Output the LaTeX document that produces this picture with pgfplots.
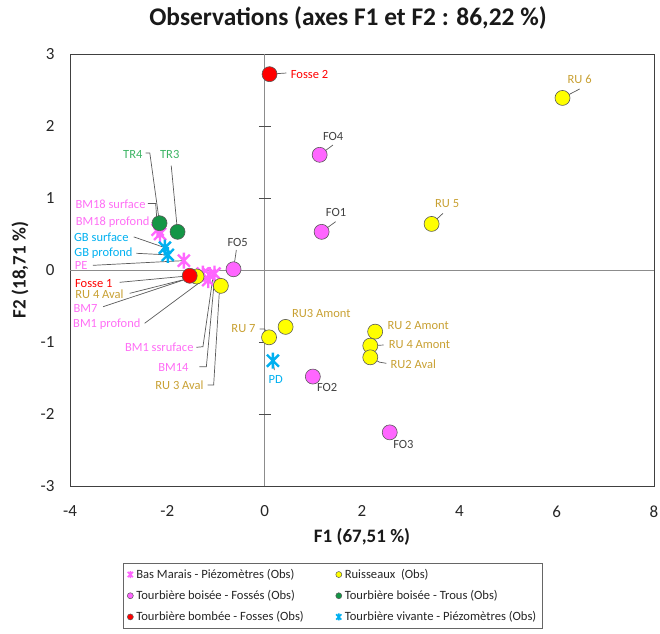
\documentclass[border=0pt]{standalone}
\usepackage{pgfplots}
\pgfplotsset{compat=1.18}
\usepackage{fontspec}
\setmainfont{Carlito}

\definecolor{pinkM}{RGB}{255,102,255}
\definecolor{pinkL}{RGB}{255,110,245}
\definecolor{cyanM}{RGB}{0,176,240}
\definecolor{greenM}{RGB}{20,150,70}
\definecolor{greenL}{RGB}{60,180,100}
\definecolor{redM}{RGB}{255,0,0}
\definecolor{yellowM}{RGB}{255,255,0}
\definecolor{goldL}{RGB}{200,160,50}
\definecolor{foL}{RGB}{64,64,64}
\definecolor{leader}{RGB}{90,90,90}

\pgfdeclareplotmark{xstar}{%
  \pgfpathmoveto{\pgfqpoint{-.75\pgfplotmarksize}{-.75\pgfplotmarksize}}%
  \pgfpathlineto{\pgfqpoint{.75\pgfplotmarksize}{.75\pgfplotmarksize}}%
  \pgfpathmoveto{\pgfqpoint{-.75\pgfplotmarksize}{.75\pgfplotmarksize}}%
  \pgfpathlineto{\pgfqpoint{.75\pgfplotmarksize}{-.75\pgfplotmarksize}}%
  \pgfpathmoveto{\pgfqpoint{0pt}{-\pgfplotmarksize}}%
  \pgfpathlineto{\pgfqpoint{0pt}{\pgfplotmarksize}}%
  \pgfusepathqstroke
}

\pgfplotstableread{
x y
-2.20 0.56
-2.15 0.50
-1.66 0.13
-1.27 -0.05
-1.13 -0.07
-1.03 -0.05
-1.16 -0.14
}\bmdata
\pgfplotstableread{
x y
6.12 2.39
3.43 0.64
0.43 -0.79
0.09 -0.935
2.27 -0.856
2.17 -1.051
2.17 -1.213
-1.40 -0.09
-0.90 -0.22
}\rudata
\pgfplotstableread{
x y
1.13 1.60
1.17 0.53
-0.64 0.01
0.99 -1.48
2.57 -2.255
}\fodata
\pgfplotstableread{
x y
-2.16 0.65
-1.79 0.53
}\trdata
\pgfplotstableread{
x y
0.10 2.72
-1.54 -0.08
}\fsdata
\pgfplotstableread{
x y
-2.05 0.31
-1.99 0.21
0.17 -1.26
}\tvdata

\begin{document}
\begin{tikzpicture}
\useasboundingbox (0,0) rectangle (660bp,634bp);
\begin{axis}[
  at={(70bp,148bp)}, anchor=south west,
  scale only axis, width=584bp, height=432bp,
  xmin=-4, xmax=8, ymin=-3, ymax=3,
  xtick={-4,-2,...,8}, ytick={-3,-2,...,3},
  major tick length=0pt,
  axis line style={draw=black!75, line width=0.9bp},
  tick label style={font=\fontsize{17bp}{20bp}\selectfont, text=black!85},
  xticklabel style={yshift=-16bp},
  yticklabel style={xshift=-12bp},
  /pgf/number format/assume math mode=true,
  clip=false,
  legend columns=2,
  legend cell align=left,
  legend image code/.code={\draw[#1] plot coordinates {(0bp,0bp)};},
  legend style={at={(0.0908,-0.178)}, anchor=north west, draw=black!60, line width=0.6bp,
    font=\fontsize{12.6bp}{15bp}\selectfont, text=black!85,
    inner xsep=4bp, inner ysep=4bp, row sep=6.5bp,
    /tikz/every odd column/.append style={column sep=1bp},
    /tikz/every even column/.append style={column sep=30bp}},
]
% central axes
\draw[black!45, line width=0.9bp] (axis cs:0,-3) -- (axis cs:0,3);
\draw[black!45, line width=0.9bp] (axis cs:-4,0) -- (axis cs:8,0);
\pgfplotsinvokeforeach{-2,-1,1,2}{\draw[black!70, line width=0.8bp] (axis cs:-0.12,#1) -- (axis cs:0.12,#1);}

% leader lines
\begin{scope}[leader, line width=0.7bp]
\draw (axis cs:-2.445,1.625) -- (axis cs:-2.36,1.625) -- (axis cs:-2.16,0.65);
\draw (axis cs:-1.92,1.45) -- (axis cs:-1.79,0.53);
\draw (axis cs:-2.40,0.925) -- (axis cs:-2.24,0.925) -- (axis cs:-2.20,0.56);
\draw (axis cs:-2.32,0.667) -- (axis cs:-2.15,0.50);
\draw (axis cs:-2.69,0.46) -- (axis cs:-2.05,0.31);
\draw (axis cs:-2.636,0.232) -- (axis cs:-1.99,0.21);
\draw (axis cs:-3.528,0.065) -- (axis cs:-1.66,0.13);
\draw (axis cs:-2.979,-0.171) -- (axis cs:-1.54,-0.08);
\draw (axis cs:-2.774,-0.324) -- (axis cs:-1.40,-0.09);
\draw (axis cs:-3.32,-0.51) -- (axis cs:-1.27,-0.05);
\draw (axis cs:-2.466,-0.74) -- (axis cs:-1.13,-0.07);
\draw (axis cs:-1.403,-1.074) -- (axis cs:-1.268,-1.065) -- (axis cs:-1.06,-0.09);
\draw (axis cs:-1.34,-1.343) -- (axis cs:-1.198,-1.343) -- (axis cs:-1.03,-0.12);
\draw (axis cs:-1.171,-1.597) -- (axis cs:-1.048,-1.597) -- (axis cs:-0.925,-0.23);
\draw (axis cs:-0.582,0.278) -- (axis cs:-0.64,0.01);
\draw (axis cs:0.10,2.72) -- (axis cs:0.445,2.736);
\draw (axis cs:1.404,1.736) -- (axis cs:1.13,1.60);
\draw (axis cs:1.459,0.671) -- (axis cs:1.17,0.53);
\draw (axis cs:3.664,0.787) -- (axis cs:3.43,0.64);
\draw (axis cs:6.472,2.514) -- (axis cs:6.12,2.39);
\draw (axis cs:-0.103,-0.819) -- (axis cs:0.0,-0.819) -- (axis cs:0.09,-0.935);
\draw (axis cs:0.20,-1.39) -- (axis cs:0.17,-1.26);
\draw (axis cs:2.445,-1.042) -- (axis cs:2.17,-1.051);
\draw (axis cs:2.50,-1.296) -- (axis cs:2.36,-1.28) -- (axis cs:2.17,-1.213);
\end{scope}

% series
\addplot[only marks, mark=xstar, mark size=8bp, draw=pinkM, line width=2.4bp, forget plot] table {\bmdata};
\addplot[only marks, mark=*, mark size=7.5bp, draw=black!65, fill=yellowM, line width=0.6bp, forget plot] table {\rudata};
\addplot[only marks, mark=*, mark size=7.5bp, draw=black!65, fill=pinkM, line width=0.6bp, forget plot] table {\fodata};
\addplot[only marks, mark=*, mark size=7.5bp, draw=black!65, fill=greenM, line width=0.6bp, forget plot] table {\trdata};
\addplot[only marks, mark=*, mark size=7.5bp, draw=black!65, fill=redM, line width=0.6bp, forget plot] table {\fsdata};
\addplot[only marks, mark=xstar, mark size=8bp, draw=cyanM, line width=2.4bp, forget plot] table {\tvdata};

% labels
\begin{scope}[every node/.style={font=\fontsize{12.5bp}{15bp}\selectfont, inner sep=0pt}]
\node[anchor=east, text=greenL] at (axis cs:-2.507,1.611) {TR4};
\node[text=greenL] at (axis cs:-1.95,1.611) {TR3};
\node[anchor=east, text=pinkL] at (axis cs:-2.445,0.917) {BM18 surface};
\node[anchor=east, text=pinkL] at (axis cs:-2.363,0.667) {BM18 profond};
\node[anchor=east, text=cyanM] at (axis cs:-2.794,0.458) {GB surface};
\node[anchor=east, text=cyanM] at (axis cs:-2.712,0.236) {GB profond};
\node[anchor=east, text=pinkL] at (axis cs:-3.637,0.069) {PE};
\node[anchor=east, text=redM] at (axis cs:-3.123,-0.181) {Fosse 1};
\node[anchor=east, text=goldL] at (axis cs:-2.897,-0.333) {RU 4 Aval};
\node[anchor=east, text=pinkL] at (axis cs:-3.431,-0.528) {BM7};
\node[anchor=east, text=pinkL] at (axis cs:-2.548,-0.75) {BM1 profond};
\node[anchor=east, text=pinkL] at (axis cs:-1.459,-1.069) {BM1 ssruface};
\node[anchor=east, text=pinkL] at (axis cs:-1.562,-1.347) {BM14};
\node[anchor=east, text=goldL] at (axis cs:-1.253,-1.597) {RU 3 Aval};
\node[text=foL] at (axis cs:-0.555,0.389) {FO5};
\node[anchor=west, text=redM] at (axis cs:0.534,2.722) {Fosse 2};
\node[text=foL] at (axis cs:1.407,1.861) {FO4};
\node[text=foL] at (axis cs:1.466,0.796) {FO1};
\node[text=goldL] at (axis cs:3.75,0.917) {RU 5};
\node[text=goldL] at (axis cs:6.472,2.653) {RU 6};
\node[text=goldL] at (axis cs:1.165,-0.602) {RU3 Amont};
\node[anchor=east, text=goldL] at (axis cs:-0.185,-0.819) {RU 7};
\node[text=cyanM] at (axis cs:0.226,-1.514) {PD};
\node[text=foL] at (axis cs:1.284,-1.630) {FO2};
\node[anchor=west, text=goldL] at (axis cs:2.521,-0.764) {RU 2 Amont};
\node[anchor=west, text=goldL] at (axis cs:2.548,-1.042) {RU 4 Amont};
\node[anchor=west, text=goldL] at (axis cs:2.583,-1.306) {RU2 Aval};
\node[text=foL] at (axis cs:2.85,-2.417) {FO3};
\end{scope}

% legend
\addlegendimage{only marks, mark=xstar, mark size=3.5bp, draw=pinkM, line width=1.6bp}
\addlegendentry{Bas Marais - Piézomètres (Obs)}
\addlegendimage{only marks, mark=*, mark size=3bp, draw=black!65, fill=yellowM, line width=0.5bp}
\addlegendentry{Ruisseaux~ (Obs)}
\addlegendimage{only marks, mark=*, mark size=3bp, draw=black!65, fill=pinkM, line width=0.5bp}
\addlegendentry{Tourbière boisée - Fossés (Obs)}
\addlegendimage{only marks, mark=*, mark size=3bp, draw=black!65, fill=greenM, line width=0.5bp}
\addlegendentry{Tourbière boisée - Trous (Obs)}
\addlegendimage{only marks, mark=*, mark size=3bp, draw=black!65, fill=redM, line width=0.5bp}
\addlegendentry{Tourbière bombée - Fosses (Obs)}
\addlegendimage{only marks, mark=xstar, mark size=3.5bp, draw=cyanM, line width=1.6bp}
\addlegendentry{Tourbière vivante - Piézomètres (Obs)}
\end{axis}
\node[font=\fontsize{25.4bp}{30bp}\selectfont\bfseries, text=black!90] at (348bp,616bp) {Observations (axes F1 et F2 : 86,22 \%)};
\node[font=\fontsize{19bp}{22bp}\selectfont\bfseries, text=black!90] at (362bp,97bp) {F1 (67,51 \%)};
\node[font=\fontsize{19bp}{22bp}\selectfont\bfseries, text=black!90, rotate=90] at (20bp,364bp) {F2 (18,71 \%)};
\end{tikzpicture}
\end{document}
